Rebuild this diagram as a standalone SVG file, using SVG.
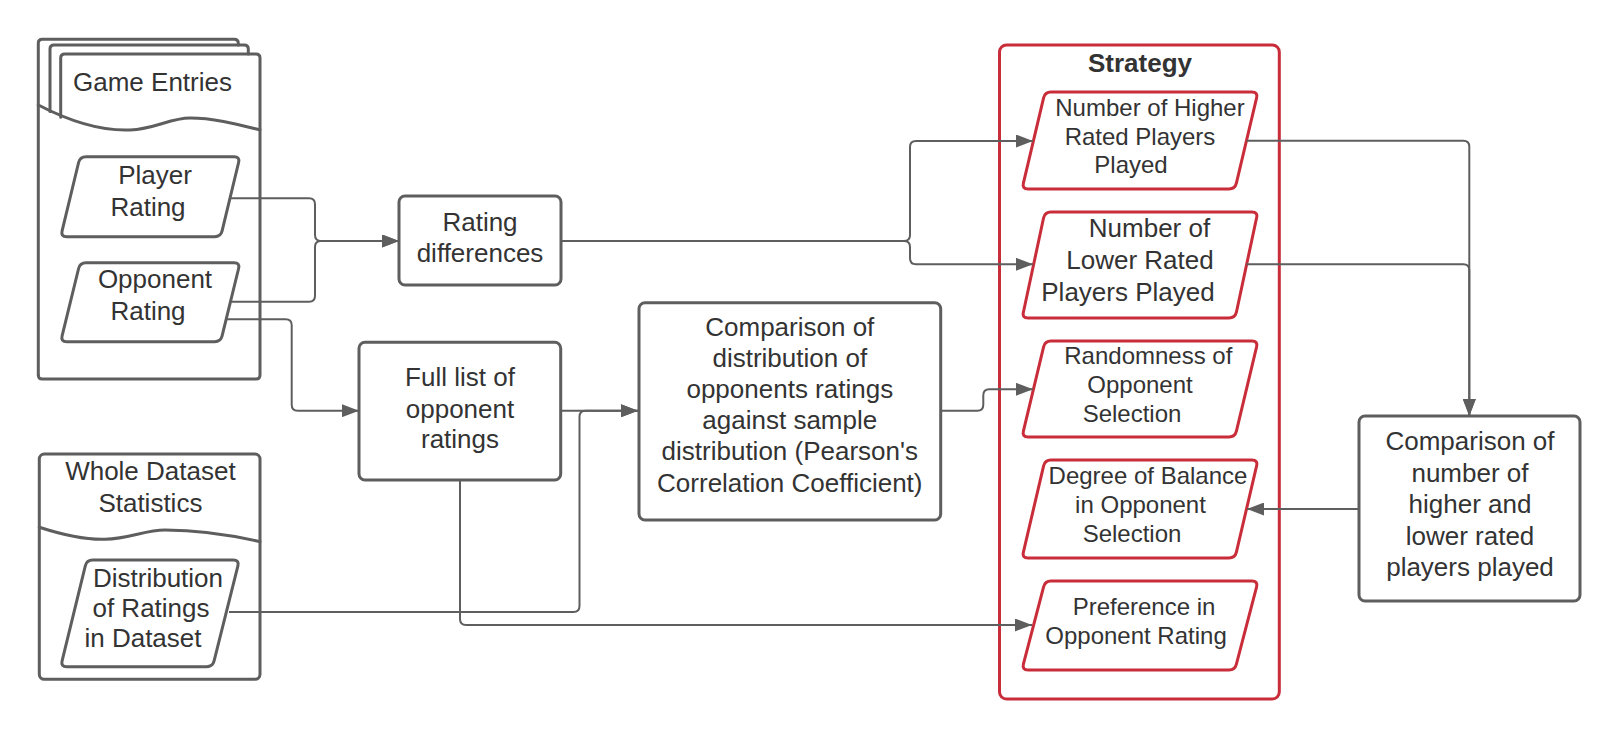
<svg xmlns="http://www.w3.org/2000/svg" width="1620" height="740" viewBox="0 0 1620 740">
<defs>
<style>
.n{fill:#fff;stroke:#5e5e5e;stroke-width:3;stroke-linejoin:round}
.o{fill:none;stroke:#5e5e5e;stroke-width:3;stroke-linejoin:round;stroke-linecap:round}
.r{fill:#fff;stroke:#c92d39;stroke-width:3;stroke-linejoin:round}
.c{fill:none;stroke:#5e5e5e;stroke-width:2}
.a{marker-end:url(#ah)}
text{font-family:"Liberation Sans",Arial,sans-serif;fill:#333;font-size:26px;text-anchor:middle}
.s{font-size:24px}
.b{font-weight:bold}
</style>
<marker id="ah" markerUnits="userSpaceOnUse" markerWidth="17" markerHeight="13" refX="17" refY="6.5" orient="auto">
<path d="M0,0 L17,6.5 L0,13 Z" fill="#5e5e5e"/>
</marker>
</defs>
<rect width="1620" height="740" fill="#fff"/>

<g id="strategy">
<rect class="r" x="999.5" y="45" width="279.8" height="654" rx="7"/>
<text class="b" x="1140" y="71.7">Strategy</text>
</g>

<g id="game-entries">
<path fill="#fff" d="M38.3,379 V40 H238 V45 H248 V54 H260 V379 Z"/>
<path class="o" d="M38.3,375 V43.3 Q38.3,39.3 42.3,39.3 H234.3 Q238.3,39.3 238.3,43.3 V45"/>
<path class="o" d="M50,111.4 V49 Q50,45 54,45 H244.3 Q248.3,45 248.3,49 V54"/>
<path class="o" d="M60.7,117.3 V58 Q60.7,54 64.7,54 H256 Q260,54 260,58 V375 Q260,379 256,379 H42.3 Q38.3,379 38.3,375"/>
<path class="o" d="M38.3,105 C75,124 105,131 130,130 C155,129 170,118 190,118 C215,118 240,125 260,130"/>
<text x="152.5" y="90.7">Game Entries</text>
</g>

<g id="player-rating">
<path class="n" d="M86,156.7 H234 Q240,156.7 238.6,162.5 L222.1,230.9 Q220.7,236.7 214.7,236.7 H66.7 Q60.7,236.7 62.1,230.9 L78.6,162.5 Q80,156.7 86,156.7 Z"/>
<text x="155" y="184">Player</text>
<text x="148" y="215.5">Rating</text>
</g>

<g id="opponent-rating">
<path class="n" d="M86,262.7 H234 Q240,262.7 238.6,268.5 L222.1,335.9 Q220.7,341.7 214.7,341.7 H66.7 Q60.7,341.7 62.1,335.9 L78.6,268.5 Q80,262.7 86,262.7 Z"/>
<text x="155" y="288.3">Opponent</text>
<text x="148" y="320">Rating</text>
</g>

<g id="whole-dataset">
<rect class="n" x="39.3" y="454" width="220.7" height="225.3" rx="5"/>
<path class="o" d="M39.3,527.3 C60,534 85,540 105,539.3 C130,538.5 145,530 165,530 C200,530 235,536 260,541.7"/>
<text x="150.4" y="480">Whole Dataset</text>
<text x="150.4" y="512.3">Statistics</text>
</g>

<g id="distribution">
<path class="n" d="M92.7,560 H233.3 Q239.3,560 237.9,565.8 L214.1,660.9 Q212.7,666.7 206.7,666.7 H66.7 Q60.7,666.7 62.1,660.9 L85.3,565.8 Q86.7,560 92.7,560 Z"/>
<text x="158" y="586.7">Distribution</text>
<text x="151" y="616.5">of Ratings</text>
<text x="143" y="647.3">in Dataset</text>
</g>

<g id="rating-differences">
<rect class="n" x="399" y="196" width="162" height="89" rx="6"/>
<text x="480" y="231">Rating</text>
<text x="480" y="261.7">differences</text>
</g>

<g id="full-list">
<rect class="n" x="359" y="342.3" width="201.7" height="137.7" rx="6"/>
<text x="460" y="385.7">Full list of</text>
<text x="460" y="417.7">opponent</text>
<text x="460" y="448.3">ratings</text>
</g>

<g id="comparison-distribution">
<rect class="n" x="639" y="302.7" width="301.7" height="217.3" rx="6"/>
<text x="789.8" y="335.7">Comparison of</text>
<text x="789.8" y="366.7">distribution of</text>
<text x="789.8" y="398.3">opponents ratings</text>
<text x="789.8" y="429.3">against sample</text>
<text x="789.8" y="460">distribution (Pearson's</text>
<text x="789.8" y="491.7">Correlation Coefficient)</text>
</g>

<g id="higher-rated">
<path class="r" d="M1051,92 H1252 Q1258,92 1256.6,97.8 L1236.4,183.2 Q1235,189 1229,189 H1028 Q1022,189 1023.4,183.2 L1043.6,97.8 Q1045,92 1051,92 Z"/>
<text class="s" x="1150" y="116">Number of Higher</text>
<text class="s" x="1140" y="145">Rated Players</text>
<text class="s" x="1131" y="173.3">Played</text>
</g>

<g id="lower-rated">
<path class="r" d="M1051,212 H1252 Q1258,212 1256.6,217.8 L1236.4,312.2 Q1235,318 1229,318 H1028 Q1022,318 1023.4,312.2 L1043.6,217.8 Q1045,212 1051,212 Z"/>
<text x="1149.5" y="237.3">Number of</text>
<text x="1140" y="269.3">Lower Rated</text>
<text x="1128" y="300.5">Players Played</text>
</g>

<g id="randomness">
<path class="r" d="M1051,341 H1252 Q1258,341 1256.6,346.8 L1236.4,431.2 Q1235,437 1229,437 H1028 Q1022,437 1023.4,431.2 L1043.6,346.8 Q1045,341 1051,341 Z"/>
<text class="s" x="1148.3" y="364.3">Randomness of</text>
<text class="s" x="1140" y="393.3">Opponent</text>
<text class="s" x="1132" y="422.3">Selection</text>
</g>

<g id="degree-balance">
<path class="r" d="M1051,460 H1252 Q1258,460 1256.6,465.8 L1236.4,552.2 Q1235,558 1229,558 H1028 Q1022,558 1023.4,552.2 L1043.6,465.8 Q1045,460 1051,460 Z"/>
<text class="s" x="1148" y="484.3">Degree of Balance</text>
<text class="s" x="1140.5" y="513.3">in Opponent</text>
<text class="s" x="1132" y="542.3">Selection</text>
</g>

<g id="preference">
<path class="r" d="M1051,581 H1252 Q1258,581 1256.6,586.8 L1236.4,664.2 Q1235,670 1229,670 H1028 Q1022,670 1023.4,664.2 L1043.6,586.8 Q1045,581 1051,581 Z"/>
<text class="s" x="1144" y="615">Preference in</text>
<text class="s" x="1136" y="644">Opponent Rating</text>
</g>

<g id="comparison-number">
<rect class="n" x="1359" y="416" width="221" height="185" rx="6"/>
<text x="1470" y="450">Comparison of</text>
<text x="1470" y="481.5">number of</text>
<text x="1470" y="513">higher and</text>
<text x="1470" y="544.5">lower rated</text>
<text x="1470" y="576">players played</text>
</g>

<g id="connectors">
<path class="c a" d="M230,198.3 H309 Q315,198.3 315,204.3 V235 Q315,241 321,241 H399"/>
<path class="c a" d="M229.6,301.7 H309 Q315,301.7 315,295.7 V247 Q315,241 321,241 H399"/>
<path class="c a" d="M225.5,319.3 H285.7 Q291.7,319.3 291.7,325.3 V404.7 Q291.7,410.7 297.7,410.7 H359"/>
<path class="c a" d="M561,241 H904 Q910,241 910,235 V147 Q910,141 916,141 H1033"/>
<path class="c a" d="M561,241 H904 Q910,241 910,247 V258.3 Q910,264.3 916,264.3 H1033"/>
<path class="c a" d="M560.7,410.7 H638"/>
<path class="c a" d="M229,612 H573.5 Q579.5,612 579.5,606 V416.7 Q579.5,410.7 585.5,410.7 H638"/>
<path class="c a" d="M460,480 V619 Q460,625 466,625 H1032"/>
<path class="c a" d="M940.7,410.7 H977.3 Q983.3,410.7 983.3,404.7 V395.3 Q983.3,389.3 989.3,389.3 H1033"/>
<path class="c a" d="M1246.6,140.7 H1463.3 Q1469.3,140.7 1469.3,146.7 V416"/>
<path class="c a" d="M1246.4,264.3 H1463.3 Q1469.3,264.3 1469.3,270.3 V416"/>
<path class="c a" d="M1359,509 H1247"/>
</g>
</svg>
